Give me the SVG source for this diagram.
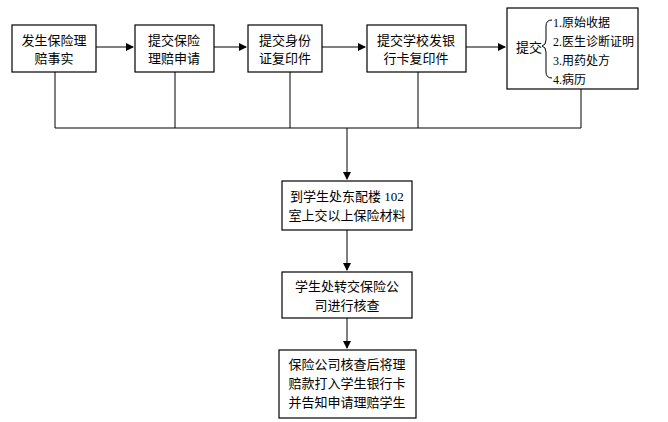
<svg xmlns="http://www.w3.org/2000/svg" width="668" height="422" viewBox="0 0 668 422">
<style>
.b{fill:#fff;stroke:#000;stroke-width:1.2}
.t{font-family:"Liberation Serif","Noto Sans CJK SC",serif;font-size:13px;fill:#000;text-anchor:middle}
.s{font-family:"Liberation Serif","Noto Sans CJK SC",serif;font-size:12px;fill:#000}
.l{fill:none;stroke:#000;stroke-width:1}
</style>
<defs><marker id="a" markerWidth="8" markerHeight="8" refX="7" refY="4" orient="auto" markerUnits="userSpaceOnUse"><path d="M0,0L8,4L0,8z" fill="#000"/></marker></defs>
<rect width="668" height="422" fill="#fff"/>
<g id="connectors">
<path class="l" d="M96,47H133" marker-end="url(#a)"/>
<path class="l" d="M214,47H246" marker-end="url(#a)"/>
<path class="l" d="M322,47H365" marker-end="url(#a)"/>
<path class="l" d="M466,47H505" marker-end="url(#a)"/>
<path class="l" d="M55,72V128M175,72V128M290,72V128M418,72V128M581,89V128M55,128H581"/>
<path class="l" d="M347,128V179" marker-end="url(#a)"/>
<path class="l" d="M347,230V270" marker-end="url(#a)"/>
<path class="l" d="M347,318V348" marker-end="url(#a)"/>
</g>
<g id="n1"><rect class="b" x="12" y="25" width="84" height="47"/><text class="t" x="54" y="45">发生保险理</text><text class="t" x="54" y="63">赔事实</text></g>
<g id="n2"><rect class="b" x="135" y="25" width="79" height="47"/><text class="t" x="174" y="45">提交保险</text><text class="t" x="174" y="63">理赔申请</text></g>
<g id="n3"><rect class="b" x="248" y="25" width="74" height="47"/><text class="t" x="285" y="45">提交身份</text><text class="t" x="285" y="63">证复印件</text></g>
<g id="n4"><rect class="b" x="367" y="25" width="99" height="47"/><text class="t" x="416" y="45">提交学校发银</text><text class="t" x="416" y="63">行卡复印件</text></g>
<g id="n5"><rect class="b" x="507" y="8" width="131" height="81"/>
<text class="t" x="529" y="52">提交</text>
<path class="l" d="M552,20Q546,20 546,26V40Q546,45 542,46Q546,47 546,52V72Q546,78 552,78"/>
<text class="s" x="553" y="27">1.原始收据</text><text class="s" x="553" y="46">2.医生诊断证明</text><text class="s" x="553" y="65">3.用药处方</text><text class="s" x="553" y="84">4.病历</text></g>
<g id="n6"><rect class="b" x="282" y="181" width="130" height="49"/><text class="t" x="347" y="201">到学生处东配楼 102</text><text class="t" x="347" y="220">室上交以上保险材料</text></g>
<g id="n7"><rect class="b" x="282" y="272" width="130" height="46"/><text class="t" x="347" y="291">学生处转交保险公</text><text class="t" x="347" y="310">司进行核查</text></g>
<g id="n8"><rect class="b" x="279" y="350" width="137" height="68"/><text class="t" x="347" y="369">保险公司核查后将理</text><text class="t" x="347" y="388">赔款打入学生银行卡</text><text class="t" x="347" y="407">并告知申请理赔学生</text></g>
</svg>
